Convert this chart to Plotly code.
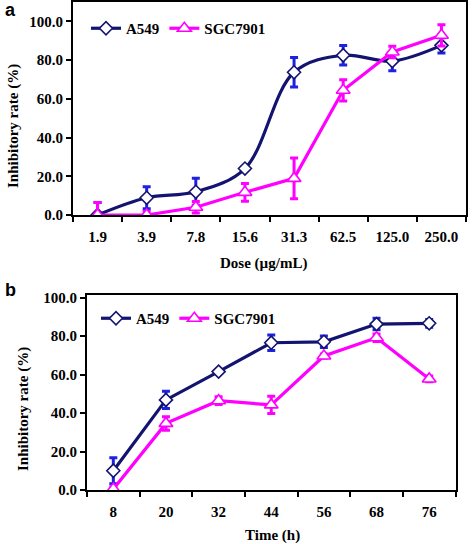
import plotly.graph_objects as go

# Panel a data
dose_labels = ["1.9", "3.9", "7.8", "15.6", "31.3", "62.5", "125.0", "250.0"]
a_a549 = [0.0, 8.9, 12.0, 24.0, 73.7, 82.5, 79.5, 87.6]
a_a549_err = [6.5, 5.7, 7.0, 1.0, 7.6, 5.0, 5.0, 4.0]
a_sgc = [0.0, 0.0, 4.0, 11.7, 18.9, 64.4, 84.2, 92.8]
a_sgc_err = [6.5, 2.0, 3.0, 4.6, 10.5, 5.5, 3.0, 5.5]

# Panel b data
time_labels = ["8", "20", "32", "44", "56", "68", "76"]
b_a549 = [10.0, 46.8, 61.5, 76.5, 77.0, 86.2, 86.6]
b_a549_err = [6.8, 4.5, 0.8, 4.0, 3.0, 3.0, 2.0]
b_sgc = [0.5, 34.6, 46.4, 44.2, 69.6, 79.1, 57.7]
b_sgc_err = [1.0, 3.5, 2.0, 4.5, 1.0, 2.0, 1.5]

y_ticks_vals = [0, 20, 40, 60, 80, 100]
y_ticks_text = ["0.0", "20.0", "40.0", "60.0", "80.0", "100.0"]

NAVY = "#131370"
BLUE = "#1e22e0"
MAG = "#ff00ff"
SERIF = "Liberation Serif"
W, H = 472, 544

fig = go.Figure()

def add_pair(xs, ya, ea, ys, es, xa, yax, legend, shape_a):
    fig.add_trace(go.Scatter(
        x=xs, y=ya, name="A549", mode="lines+markers", xaxis=xa, yaxis=yax, legend=legend,
        line=dict(color=NAVY, width=3.2, shape=shape_a),
        marker=dict(symbol="diamond", size=10, color="white", line=dict(color=NAVY, width=1.6)),
        error_y=dict(type="data", array=ea, visible=True, color=BLUE, thickness=3, width=4),
    ))
    fig.add_trace(go.Scatter(
        x=xs, y=ys, name="SGC7901", mode="lines+markers", xaxis=xa, yaxis=yax, legend=legend,
        line=dict(color=MAG, width=3.2),
        marker=dict(symbol="triangle-up", size=12, color="white", line=dict(color=MAG, width=1.6)),
        error_y=dict(type="data", array=es, visible=True, color=MAG, thickness=3, width=4),
    ))

add_pair(dose_labels, a_a549, a_a549_err, a_sgc, a_sgc_err, "x", "y", "legend", "spline")
add_pair(time_labels, b_a549, b_a549_err, b_sgc, b_sgc_err, "x2", "y2", "legend2", "linear")

xtickfont = dict(family=SERIF, size=15, color="black", weight="bold")
ytickfont = dict(family=SERIF, size=15, color="black", weight="bold")
axis_common = dict(showline=True, linecolor="black", linewidth=2, mirror=True,
                   showgrid=False, zeroline=False, ticks="outside", ticklen=5,
                   tickwidth=2, tickcolor="black", automargin=False)

def px_x(p):
    return p / W

def px_y(p):
    return 1 - p / H

legend_font = dict(family=SERIF, size=15, color="black", weight="bold")
fig.update_layout(
    width=W, height=H, margin=dict(l=0, r=0, t=0, b=0, autoexpand=False),
    paper_bgcolor="white", plot_bgcolor="white",
    xaxis=dict(domain=[px_x(73), px_x(466)], anchor="y", type="category",
               range=[-0.5, 7.5], tickson="boundaries", ticklabelstandoff=7,
               tickfont=xtickfont, **axis_common),
    yaxis=dict(domain=[px_y(215), px_y(2)], anchor="x", range=[0, 110],
               tickvals=y_ticks_vals, ticktext=y_ticks_text, tickfont=ytickfont, **axis_common),
    xaxis2=dict(domain=[px_x(87), px_x(455.5)], anchor="y2", type="category",
                range=[-0.5, 6.5], tickson="boundaries", ticklabelstandoff=7,
                tickfont=xtickfont, **axis_common),
    yaxis2=dict(domain=[px_y(490), px_y(295)], anchor="x2", range=[0, 101.3],
                tickvals=y_ticks_vals, ticktext=y_ticks_text, tickfont=ytickfont, **axis_common),
    legend=dict(orientation="h", x=px_x(86), y=px_y(12), xanchor="left", yanchor="top",
                font=legend_font, bgcolor="rgba(0,0,0,0)", itemwidth=30),
    legend2=dict(orientation="h", x=px_x(96), y=px_y(302), xanchor="left", yanchor="top",
                 font=legend_font, bgcolor="rgba(0,0,0,0)", itemwidth=30),
    showlegend=True,
)

def note(text, x, y, font, angle=0):
    fig.add_annotation(text=text, textangle=angle, x=px_x(x), y=px_y(y),
                       xref="paper", yref="paper", xanchor="center", yanchor="middle",
                       showarrow=False, font=font)

title_font = dict(family=SERIF, size=15, color="black", weight="bold")
note("Inhibitory rate (%)", 13, 126, title_font, -90)
note("Inhibitory rate (%)", 23, 409, title_font, -90)
note("Dose (µg/mL)", 263, 263, title_font)
note("Time (h)", 272, 535, title_font)
label_font = dict(family="Liberation Sans", size=18, color="black", weight="bold")
note("a", 10, 10, label_font)
note("b", 10, 290, label_font)

fig.write_html(
    "out.html",
    config={"displayModeBar": False},
    post_script="document.body.style.margin='0';document.body.style.overflow='hidden';",
)
